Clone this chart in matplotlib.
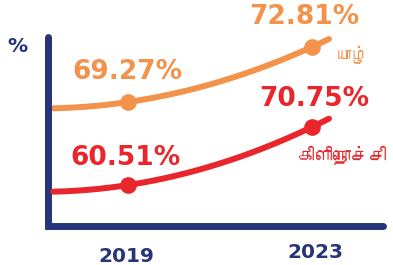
import numpy as np
import matplotlib
matplotlib.use("Agg")
import matplotlib.pyplot as plt
from matplotlib import font_manager
from matplotlib.ft2font import FT2Font

# ---- data ----
years = [2019, 2023]
jaffna = [69.27, 72.81]
kilinochchi = [60.51, 70.75]
series_names = ["யாழ்", "கிளிநொச்சி"]
y_unit = "%"

# ---- style ----
NAVY = "#27337a"
ORANGE = "#f3924a"
RED = "#e8262b"

# find a font with Tamil glyphs, if any
tamil_family = None
for f in font_manager.fontManager.ttflist:
    try:
        cm = FT2Font(f.fname).get_charmap()
        if 0x0BAF in cm and 0x0B95 in cm:
            tamil_family = f.name
            break
    except Exception:
        pass
tamil_fams = ([tamil_family] if tamil_family else []) + ["DejaVu Sans"]

fig = plt.figure(figsize=(3.93, 2.65), dpi=100)
W, H = 393, 265
left, right, top, bottom = 48, 383, 37, 226
rect = [left / W, 1 - bottom / H, (right - left) / W, (bottom - top) / H]
ax1 = fig.add_axes(rect)
ax2 = fig.add_axes(rect, sharex=ax1)
for a in (ax1, ax2):
    a.set_axis_off()
    a.patch.set_alpha(0)

ax1.set_xlim(2017.246, 2024.547)
ax1.set_ylim(61.29, 73.45)
ax2.set_ylim(53.27, 86.64)

beta = 0.49
x0, x1 = 2017.36, 2023.37


def curve(vals):
    xs = np.linspace(x0, x1, 200)
    t = (xs - years[0]) / (years[1] - years[0])
    f = beta * t + (1 - beta) * t ** 2
    return xs, vals[0] + (vals[1] - vals[0]) * f


for a, vals, col, name, name_off, name_fs, lab_offs in [
    (ax1, jaffna, ORANGE, series_names[0], (40, -8), 12.5, [(-1, 30), (-8, 30)]),
    (ax2, kilinochchi, RED, series_names[1], (31, -28), 13, [(-3, 27), (2, 28)]),
]:
    xs, ys = curve(vals)
    a.plot(xs, ys, color=col, lw=4.3, solid_capstyle="round", clip_on=False)
    a.plot(years, vals, "o", color=col, ms=11, clip_on=False)
    for x, v, off in zip(years, vals, lab_offs):
        a.annotate(f"{v:.2f}%", (x, v), xytext=off, textcoords="offset pixels",
                   ha="center", va="center", color=col, fontsize=19,
                   fontweight="bold", family="DejaVu Sans")
    a.annotate(name, (years[1], vals[1]), xytext=name_off, textcoords="offset pixels",
               ha="center", va="center", color=col, fontsize=name_fs, family=tamil_fams)

# axes lines (L shape)
ax1.plot([0, 0, 1], [1, 0, 0], transform=ax1.transAxes, color=NAVY, lw=5,
         solid_capstyle="round", solid_joinstyle="miter", clip_on=False)

# y unit label
fig.text(17 / W, 1 - 46.5 / H, y_unit, ha="center", va="center", color=NAVY,
         fontsize=14.5, fontweight="bold")

# year labels
for x, dy in zip(years, [30, 26]):
    ax1.annotate(str(x), (x, 0), xycoords=("data", "axes fraction"),
                 xytext=(-2 if x == 2019 else 3, -dy), textcoords="offset pixels",
                 ha="center", va="center", color=NAVY, fontsize=14.5,
                 fontweight="bold")

fig.savefig("out.png", dpi=100)
